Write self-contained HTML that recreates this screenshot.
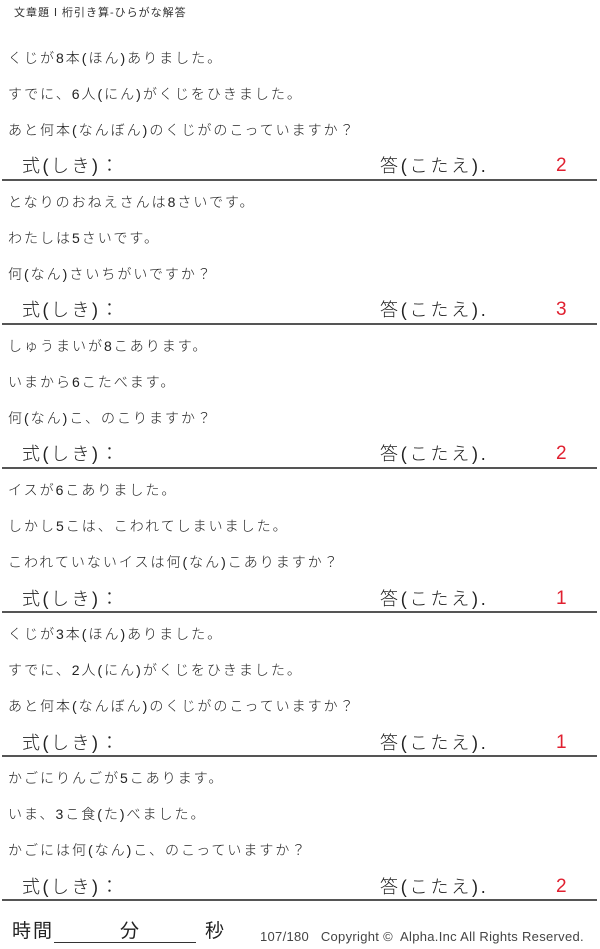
<!DOCTYPE html>
<html><head><meta charset="utf-8"><style>
body{margin:0;width:600px;height:949px;background:#fff;position:relative;font-family:"Liberation Sans","Noto Sans CJK JP",sans-serif;color:#222;overflow:hidden}
.t{position:absolute;white-space:nowrap}
.q{font-size:14px;letter-spacing:2px;left:8px;line-height:16px;font-weight:300}
.s{font-size:18px;left:22px;letter-spacing:2.5px;line-height:22px;font-weight:300}
.a{font-size:18px;left:380px;letter-spacing:2.8px;line-height:22px;font-weight:300}
.n{font-size:19px;left:556px;color:#e02030;line-height:22px}
.l{position:absolute;left:2px;width:595px;height:2px;background:#555}
</style></head><body>
<div class="t" style="left:14px;top:4px;font-size:11px;letter-spacing:1px;color:#333">文章題Ⅰ桁引き算-ひらがな解答</div>

<div class="t q" style="top:50px">くじが8本(ほん)ありました。</div>
<div class="t q" style="top:86px">すでに、6人(にん)がくじをひきました。</div>
<div class="t q" style="top:122px">あと何本(なんぼん)のくじがのこっていますか？</div>
<div class="t s" style="top:155px">式(しき)：</div><div class="t a" style="top:155px">答(こたえ).</div><div class="t n" style="top:155px">2</div>
<div class="l" style="top:179px"></div>

<div class="t q" style="top:194px">となりのおねえさんは8さいです。</div>
<div class="t q" style="top:230px">わたしは5さいです。</div>
<div class="t q" style="top:266px">何(なん)さいちがいですか？</div>
<div class="t s" style="top:299px">式(しき)：</div><div class="t a" style="top:299px">答(こたえ).</div><div class="t n" style="top:299px">3</div>
<div class="l" style="top:323px"></div>

<div class="t q" style="top:338px">しゅうまいが8こあります。</div>
<div class="t q" style="top:374px">いまから6こたべます。</div>
<div class="t q" style="top:410px">何(なん)こ、のこりますか？</div>
<div class="t s" style="top:443px">式(しき)：</div><div class="t a" style="top:443px">答(こたえ).</div><div class="t n" style="top:443px">2</div>
<div class="l" style="top:467px"></div>

<div class="t q" style="top:482px">イスが6こありました。</div>
<div class="t q" style="top:518px">しかし5こは、こわれてしまいました。</div>
<div class="t q" style="top:554px">こわれていないイスは何(なん)こありますか？</div>
<div class="t s" style="top:588px">式(しき)：</div><div class="t a" style="top:588px">答(こたえ).</div><div class="t n" style="top:588px">1</div>
<div class="l" style="top:611px"></div>

<div class="t q" style="top:626px">くじが3本(ほん)ありました。</div>
<div class="t q" style="top:662px">すでに、2人(にん)がくじをひきました。</div>
<div class="t q" style="top:698px">あと何本(なんぼん)のくじがのこっていますか？</div>
<div class="t s" style="top:732px">式(しき)：</div><div class="t a" style="top:732px">答(こたえ).</div><div class="t n" style="top:732px">1</div>
<div class="l" style="top:755px"></div>

<div class="t q" style="top:770px">かごにりんごが5こあります。</div>
<div class="t q" style="top:806px">いま、3こ食(た)べました。</div>
<div class="t q" style="top:842px">かごには何(なん)こ、のこっていますか？</div>
<div class="t s" style="top:876px">式(しき)：</div><div class="t a" style="top:876px">答(こたえ).</div><div class="t n" style="top:876px">2</div>
<div class="l" style="top:899px"></div>

<div class="t" style="left:12px;top:921px;font-size:19px;line-height:22px;letter-spacing:2px">時間</div>
<div style="position:absolute;left:54px;top:942px;width:142px;height:1px;background:#333"></div>
<div class="t" style="left:120px;top:921px;font-size:19px;line-height:22px">分</div>
<div class="t" style="left:205px;top:921px;font-size:19px;line-height:22px">秒</div>
<div class="t" style="left:260px;top:929px;font-size:13px;color:#444;letter-spacing:0.3px">107/180 &nbsp; Copyright ©&nbsp; Alpha.Inc All Rights Reserved.</div>
</body></html>
